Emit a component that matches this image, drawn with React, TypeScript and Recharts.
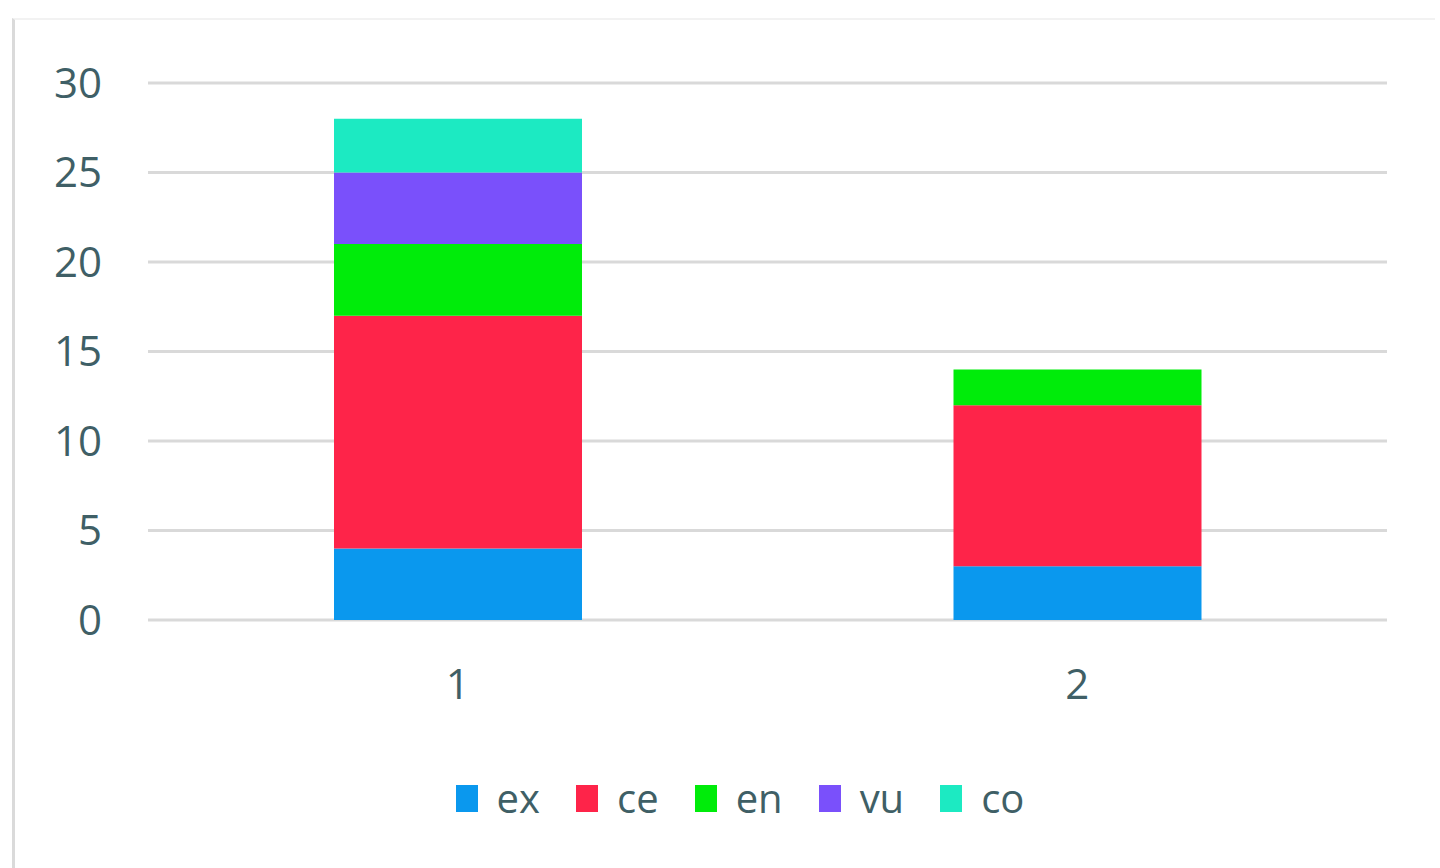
import React from 'react'
import { BarChart, Bar, XAxis, YAxis, CartesianGrid, Legend } from 'recharts'

const categories = ['1', '2']
const ex = [4, 3]
const ce = [13, 9]
const en = [4, 2]
const vu = [4, 0]
const co = [3, 0]
const yTicks = [0, 5, 10, 15, 20, 25, 30]

const SERIES = [
  { key: 'ex', values: ex, color: '#0A98EE' },
  { key: 'ce', values: ce, color: '#FE2449' },
  { key: 'en', values: en, color: '#00EC0A' },
  { key: 'vu', values: vu, color: '#7A50FB' },
  { key: 'co', values: co, color: '#1CEAC2' },
]

const TEXT = '#3f5f66'
const FONT = '"Open Sans", sans-serif'

const data = categories.map((c, i) => {
  const row: Record<string, string | number> = { name: c }
  SERIES.forEach(s => { row[s.key] = s.values[i] })
  return row
})

function LegendContent() {
  return (
    <div style={{ display: 'flex', justifyContent: 'center', alignItems: 'center', fontFamily: FONT, fontSize: 40, color: TEXT, paddingLeft: 40, height: 50 }}>
      {SERIES.map((s, i) => (
        <div key={s.key} style={{ display: 'flex', alignItems: 'center', marginLeft: i === 0 ? 0 : 36 }}>
          <span style={{ display: 'inline-block', width: 22, height: 27, background: s.color, marginRight: 19 }} />
          <span style={{ lineHeight: '50px' }}>{s.key}</span>
        </div>
      ))}
    </div>
  )
}

export default function App() {
  return (
    <div style={{ position: 'fixed', left: 0, top: 0, width: 1440, height: 868, background: '#fff', fontFamily: FONT }}>
      <div style={{ position: 'absolute', left: 12, top: 18, width: 1420, height: 860, borderLeft: '3px solid #dadada', borderTop: '2px solid #f2f2f2' }} />
      <BarChart
        width={1440}
        height={868}
        data={data}
        margin={{ top: 83, right: 53, bottom: 0, left: 0 }}
        barSize={248}
      >
        <CartesianGrid vertical={false} stroke="#d9d9d9" strokeWidth={3} />
        <XAxis
          dataKey="name"
          axisLine={false}
          tickLine={false}
          tickSize={0}
          tickMargin={49}
          height={198}
          tick={{ fontSize: 42, fill: TEXT, fontFamily: FONT }}
        />
        <YAxis
          width={148}
          domain={[0, 30]}
          ticks={yTicks}
          axisLine={false}
          tickLine={false}
          tickSize={0}
          tickMargin={46}
          tick={{ fontSize: 42, fill: TEXT, fontFamily: FONT }}
        />
        <Legend
          verticalAlign="bottom"
          content={() => <LegendContent />}
          wrapperStyle={{ bottom: 45, left: 0, width: 1440 }}
        />
        {SERIES.map(s => (
          <Bar key={s.key} dataKey={s.key} stackId="a" fill={s.color} isAnimationActive={false} />
        ))}
      </BarChart>
    </div>
  )
}
